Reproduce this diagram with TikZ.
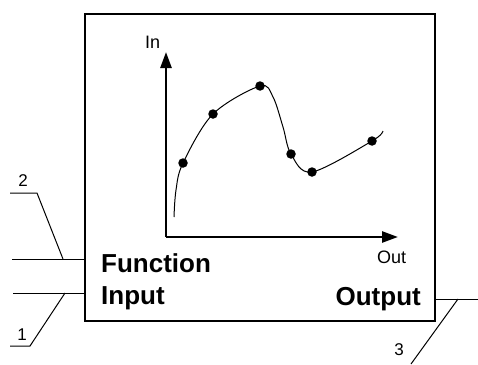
\documentclass[tikz,border=0pt]{standalone}
\usepackage{fontspec}
\setmainfont{Liberation Sans}
\usetikzlibrary{arrows.meta}
\begin{document}
\begin{tikzpicture}[x=1pt,y=-1pt,
  thinline/.style={line width=1pt, black},
  axisline/.style={line width=2.6pt, -{Triangle[length=16pt,width=11pt]}},
  dot/.style={circle, fill=black, inner sep=0pt, minimum size=9.5pt},
  bigtext/.style={font=\fontsize{26}{30}\selectfont\bfseries, inner sep=0pt},
  smalltext/.style={font=\fontsize{18}{20}\selectfont, inner sep=0pt},
  numtext/.style={font=\fontsize{17}{20}\selectfont, inner sep=0pt}]
\useasboundingbox (0,0) rectangle (478,364);
% main box
\node[draw, line width=1.4pt, minimum width=350pt, minimum height=307pt, inner sep=0pt] (box) at (260,167.5) {};
% inputs
\coordinate (inA) at (12,259);
\coordinate (inB) at (13,293);
\draw[thinline] (inA) -- (box.west |- inA);
\draw[thinline] (inB) -- (box.west |- inB);
% output
\coordinate (outR) at (478,299);
\draw[thinline] (box.east |- outR) -- (outR);
% leaders
\coordinate (l2a) at (63,259);
\coordinate (l2b) at (37,193);
\coordinate (l2c) at (10,193);
\draw[thinline] (l2a) -- (l2b) -- (l2c);
\node[numtext] (n2) at (23,181) {2};
\coordinate (l1a) at (65,293);
\coordinate (l1b) at (30,346);
\coordinate (l1c) at (10,346);
\draw[thinline] (l1a) -- (l1b) -- (l1c);
\node[numtext] (n1) at (22,335) {1};
\coordinate (l3a) at (458,299);
\coordinate (l3b) at (411,364);
\draw[thinline] (l3a) -- (l3b);
\node[numtext] (n3) at (399,350) {3};
% axes
\coordinate (O) at (166,237);
\coordinate (ytip) at (166,52);
\coordinate (xtip) at (398,237);
\draw[axisline] (O) -- (ytip);
\draw[axisline] (O) -- (xtip);
\node[smalltext, anchor=base west] (inlbl) at (145,48) {In};
\node[smalltext, anchor=base west] (outlbl) at (377,263) {Out};
% curve
\draw[line width=1pt] plot[smooth, tension=0.55] coordinates {(174,217) (176,190) (183,163) (213,114) (260,86) (273,97) (283,127) (291,154) (312,172) (372,141) (383,131)};
\node[dot] (p1) at (183,163) {};
\node[dot] (p2) at (213,114) {};
\node[dot] (p3) at (260,86) {};
\node[dot] (p4) at (291,154) {};
\node[dot] (p5) at (312,172) {};
\node[dot] (p6) at (372,141) {};
% texts
\node[bigtext, anchor=base west] (fn) at (101,272) {Function};
\node[bigtext, anchor=base west] (inp) at (101,304) {Input};
\node[bigtext, anchor=base east] (outp) at (421,305) {Output};
\end{tikzpicture}
\end{document}
